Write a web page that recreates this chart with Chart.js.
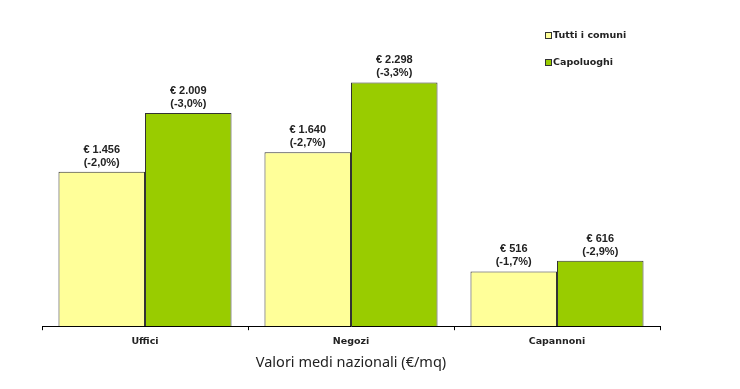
<!DOCTYPE html>
<html>
<head>
<meta charset="utf-8">
<script src="https://cdn.jsdelivr.net/npm/chart.js@4.4.1/dist/chart.umd.min.js"></script>
<style>
html,body{margin:0;padding:0;background:#fff;}
#wrap{width:740px;height:389px;position:relative;}
</style>
</head>
<body>
<div id="wrap"><canvas id="c" width="740" height="389"></canvas></div>
<script>
const categories = ["Uffici", "Negozi", "Capannoni"];
const seriesNames = ["Tutti i comuni", "Capoluoghi"];
const tuttiValues = [1456, 1640, 516];
const capoluoghiValues = [2009, 2298, 616];
const tuttiPct = ["-2,0%", "-2,7%", "-1,7%"];
const capoluoghiPct = ["-3,0%", "-3,3%", "-2,9%"];
const axisTitle = "Valori medi nazionali (€/mq)";

function fmtEuro(v){
  return "€ " + v.toLocaleString("it-IT");
}
const pcts = [tuttiPct, capoluoghiPct];

const labelPlugin = {
  id: "barLabels",
  afterDatasetsDraw(chart){
    const ctx = chart.ctx;
    ctx.save();
    ctx.font = "bold 11px 'Liberation Sans'";
    ctx.fillStyle = "#222";
    ctx.textAlign = "center";
    ctx.textBaseline = "alphabetic";
    chart.data.datasets.forEach((ds, di) => {
      const meta = chart.getDatasetMeta(di);
      meta.data.forEach((bar, i) => {
        const v = ds.data[i];
        ctx.fillText(fmtEuro(v), bar.x, bar.y - 19);
        ctx.fillText("(" + pcts[di][i] + ")", bar.x, bar.y - 6);
      });
    });
    ctx.restore();
  }
};

const legendPlugin = {
  id: "customLegend",
  afterDraw(chart){
    const ctx = chart.ctx;
    ctx.save();
    ctx.font = "bold 9.5px 'DejaVu Sans'";
    ctx.textBaseline = "middle";
    ctx.textAlign = "left";
    chart.data.datasets.forEach((ds, di) => {
      const y = 36 + di * 27;
      ctx.fillStyle = ds.backgroundColor;
      ctx.fillRect(545.5, y - 3.5, 6, 6);
      ctx.strokeStyle = "#333";
      ctx.lineWidth = 1;
      ctx.strokeRect(545.5, y - 3.5, 6, 6);
      ctx.fillStyle = "#222";
      ctx.fillText(ds.label, 553, y);
    });
    ctx.restore();
  }
};

new Chart(document.getElementById("c"), {
  type: "bar",
  data: {
    labels: categories,
    datasets: [
      {label: seriesNames[0], data: tuttiValues, backgroundColor: "#FFFF99", borderColor: "#333", borderWidth: 1, categoryPercentage: 0.84, barPercentage: 1.0},
      {label: seriesNames[1], data: capoluoghiValues, backgroundColor: "#99CC00", borderColor: "#333", borderWidth: 1, categoryPercentage: 0.84, barPercentage: 1.0}
    ]
  },
  options: {
    responsive: false,
    animation: false,
    layout: {padding: {left: 42, right: 80, top: 8, bottom: 17}},
    plugins: {legend: {display: false}, tooltip: {enabled: false}},
    scales: {
      x: {
        offset: true,
        grid: {display: true, drawOnChartArea: false, offset: true, tickLength: 4, color: "#000"},
        border: {display: true, color: "#000", width: 1},
        ticks: {font: {family: "DejaVu Sans", weight: "bold", size: 9.5}, color: "#222", padding: 6},
        title: {display: true, text: axisTitle, font: {family: "Noto Sans", size: 14.5}, color: "#222", padding: {top: 1, bottom: 0}}
      },
      y: {
        display: false,
        min: 0,
        max: 3000
      }
    }
  },
  plugins: [labelPlugin, legendPlugin]
});
</script>
</body>
</html>
